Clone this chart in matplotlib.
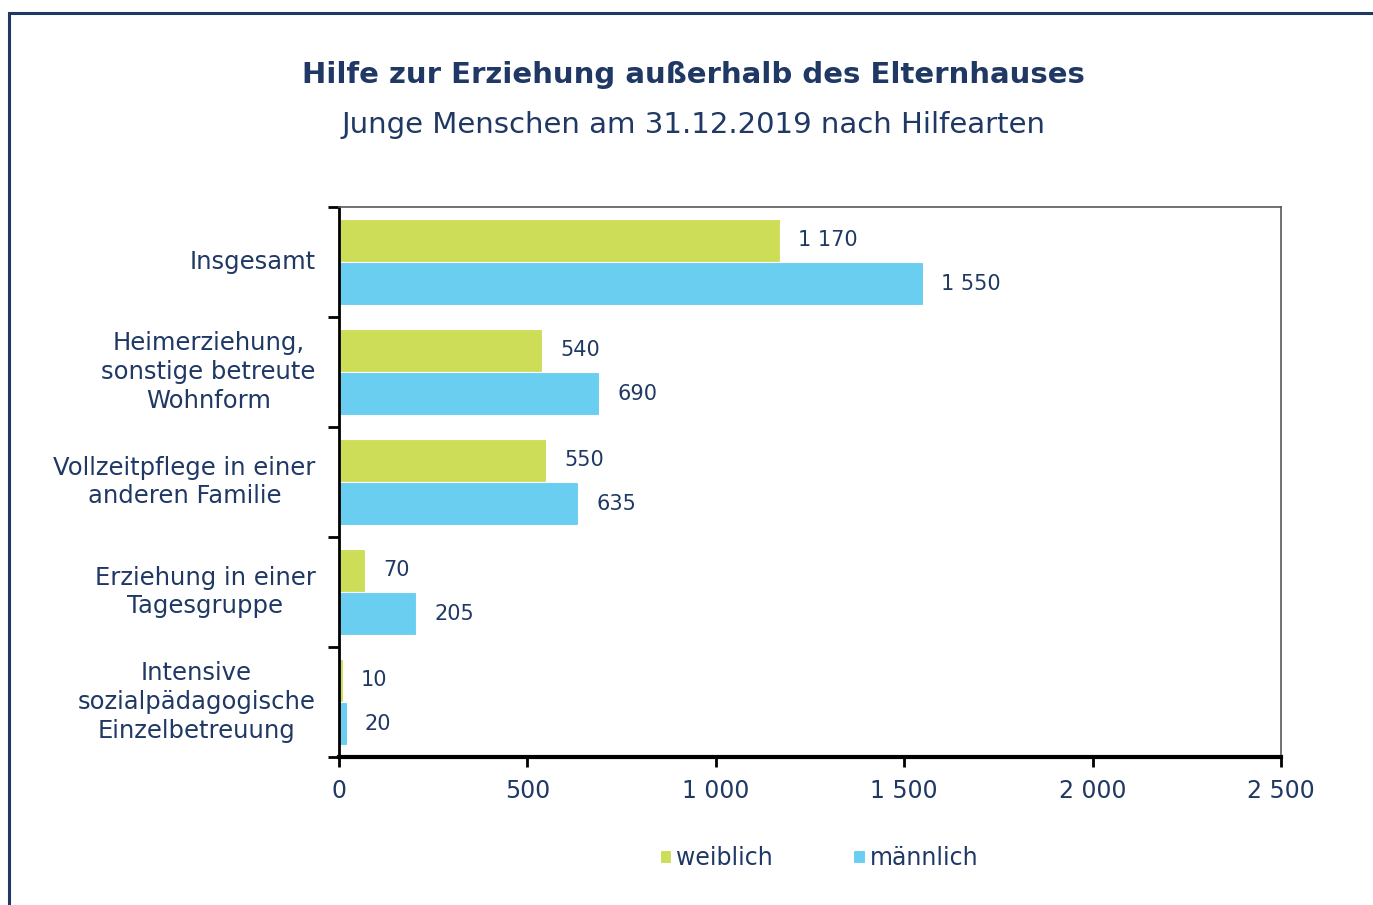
import matplotlib.pyplot as plt
import numpy as np
from matplotlib.patches import Rectangle

# Data
categories = [
    "Insgesamt",
    "Heimerziehung,\nsonstige betreute\nWohnform",
    "Vollzeitpflege in einer\nanderen Familie",
    "Erziehung in einer\nTagesgruppe",
    "Intensive\nsozialpädagogische\nEinzelbetreuung",
]
weiblich = [1170, 540, 550, 70, 10]
maennlich = [1550, 690, 635, 205, 20]
xticks = [0, 500, 1000, 1500, 2000, 2500]

NAVY = "#1F3864"
GREEN = "#CEDD58"
BLUE = "#69CEF0"


def fmt(v):
    return f"{v:,}".replace(",", " ")


plt.rcParams["font.family"] = ["DejaVu Sans"]

fig = plt.figure(figsize=(13.73, 9.05), dpi=100)

# outer frame (runs off the right and bottom edge, as in the original)
fig.patches.append(Rectangle((9 / 1373, -0.05), 1.2, 1 - 13 / 905 + 0.05,
                             transform=fig.transFigure, fill=False,
                             edgecolor=NAVY, linewidth=2.2))

fig.text(0.505, 1 - 75 / 905, "Hilfe zur Erziehung außerhalb des Elternhauses",
         ha="center", va="center", fontsize=21, fontweight="bold", color=NAVY)
fig.text(0.505, 1 - 125 / 905, "Junge Menschen am 31.12.2019 nach Hilfearten",
         ha="center", va="center", fontsize=21, color=NAVY)

ax = fig.add_axes([339 / 1373, 1 - 757 / 905, (1281 - 339) / 1373, (757 - 207) / 905])

y = np.arange(len(categories))
h = 0.39
b1 = ax.barh(y - h / 2 - 0.004, weiblich, height=h, color=GREEN,
             edgecolor="white", linewidth=0.8, label="weiblich")
b2 = ax.barh(y + h / 2 + 0.004, maennlich, height=h, color=BLUE,
             edgecolor="white", linewidth=0.8, label="männlich")

ax.bar_label(b1, labels=[fmt(v) for v in weiblich], padding=13,
             fontsize=15, color=NAVY)
ax.bar_label(b2, labels=[fmt(v) for v in maennlich], padding=13,
             fontsize=15, color=NAVY)

ax.set_xlim(0, 2500)
ax.set_ylim(len(categories) - 0.5, -0.5)

ax.set_xticks(xticks)
ax.set_xticklabels([fmt(v) for v in xticks], fontsize=17, color=NAVY)
ax.tick_params(axis="x", direction="out", length=7, width=2, pad=9, colors="black",
               labelcolor=NAVY)

# category boundaries as ticks, labels in the middle
ax.set_yticks(np.arange(len(categories) + 1) - 0.5)
ax.set_yticklabels([])
ax.tick_params(axis="y", direction="out", length=8, width=2, colors="black")
for i, cat in enumerate(categories):
    ax.text(-0.025, i, cat, transform=ax.get_yaxis_transform(),
            ha="right", va="center", multialignment="center",
            fontsize=17.5, color=NAVY, linespacing=1.25)

ax.spines["left"].set_linewidth(2)
ax.spines["bottom"].set_linewidth(3)
for s in ["top", "right"]:
    ax.spines[s].set_color("#595959")
    ax.spines[s].set_linewidth(1.2)

fig.legend(handles=[b1, b2], loc="center", bbox_to_anchor=(819 / 1373, 1 - 858 / 905),
           ncol=2, frameon=False, fontsize=17, labelcolor=NAVY,
           handlelength=0.5, handleheight=0.5, handletextpad=0.2,
           columnspacing=3.4)

fig.savefig("out.png", dpi=100)
